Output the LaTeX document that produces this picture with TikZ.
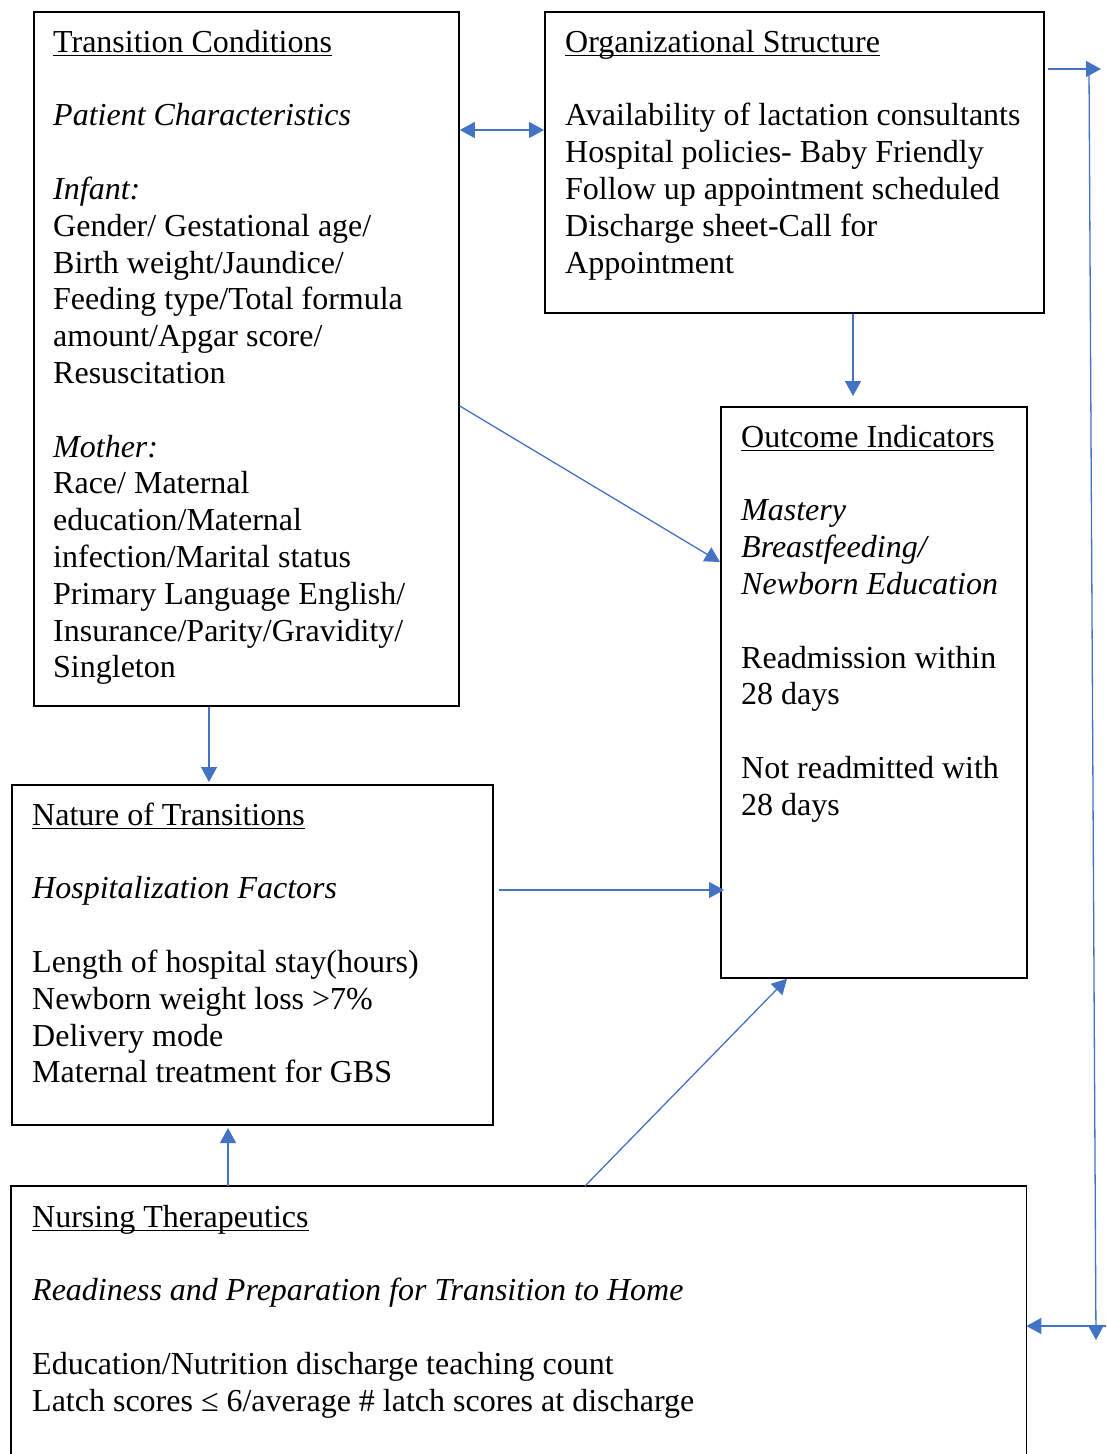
\documentclass[tikz,border=0pt]{standalone}
\usepackage{fontspec}
\setmainfont{Liberation Serif}
\usetikzlibrary{arrows.meta}
\definecolor{arrblue}{HTML}{4472C4}
\newcommand\ulx[1]{\setbox0\hbox{#1}\rlap{\rule[-4pt]{\wd0}{1.6pt}}\box0}
\newcommand\fs{\rule{0pt}{25pt}}
\begin{document}
\begin{tikzpicture}[x=1pt,y=-1pt,
 box/.style={draw=black, line width=1.8pt, anchor=north west, inner sep=0pt},
 txt/.style={anchor=north west, inner sep=0pt, align=left, font=\fontsize{32}{36.8}\selectfont},
 arr/.style={draw=arrblue, line width=1.3pt, -{Triangle[length=15pt,width=16pt]}},
 arrboth/.style={draw=arrblue, line width=1.3pt, {Triangle[length=15pt,width=16pt]}-{Triangle[length=15pt,width=16pt]}},
]
\useasboundingbox (0,0) rectangle (1106,1454);

% boxes
\node[box, minimum width=425pt, minimum height=694pt] (b1) at (33,11) {};
\node[box, minimum width=499pt, minimum height=301pt] (b2) at (544,11) {};
\node[box, minimum width=306pt, minimum height=571pt] (b3) at (720,406) {};
\node[box, minimum width=481pt, minimum height=340pt] (b4) at (11,784) {};
\node[anchor=north west, inner sep=0pt, minimum width=1015pt, minimum height=268pt] (b5) at (11,1186) {};
\draw[line width=1.8pt] (b5.south west) -- (b5.north west) -- (b5.north east) -- (b5.south east);

% texts
\node[txt] (t1) at (53,27) {\fs\ulx{Transition Conditions}\\[36.8pt]
\textit{Patient Characteristics}\\[36.8pt]
\textit{Infant:}\\
Gender/ Gestational age/\\
Birth weight/Jaundice/\\
Feeding type/Total formula\\
amount/Apgar score/\\
Resuscitation\\[36.8pt]
\textit{Mother:}\\
Race/ Maternal\\
education/Maternal\\
infection/Marital status\\
Primary Language English/\\
Insurance/Parity/Gravidity/\\
Singleton};

\node[txt] (t2) at (565,27) {\fs\ulx{Organizational Structure}\\[36.8pt]
Availability of lactation consultants\\
Hospital policies- Baby Friendly\\
Follow up appointment scheduled\\
Discharge sheet-Call for\\
Appointment};

\node[txt] (t3) at (741,422) {\fs\ulx{Outcome Indicators}\\[36.8pt]
\textit{Mastery}\\
\textit{Breastfeeding/}\\
\textit{Newborn Education}\\[36.8pt]
Readmission within\\
28 days\\[36.8pt]
Not readmitted with\\
28 days};

\node[txt] (t4) at (32,800) {\fs\ulx{Nature of Transitions}\\[36.8pt]
\textit{Hospitalization Factors}\\[36.8pt]
Length of hospital stay(hours)\\
Newborn weight loss >7\%\\
Delivery mode\\
Maternal treatment for GBS};

\node[txt] (t5) at (32,1202) {\fs\ulx{Nursing Therapeutics}\\[36.8pt]
\textit{Readiness and Preparation for Transition to Home}\\[36.8pt]
Education/Nutrition discharge teaching count\\
Latch scores ≤ 6/average \# latch scores at discharge};

% free ends
\coordinate (e1) at (853,396);
\coordinate (e2) at (209,782);
\coordinate (e3) at (228,1128);
\coordinate (e4) at (1101,69);
\coordinate (r1) at (1089,69);
\coordinate (r2) at (1096,1340);
\coordinate (r3) at (1106,1326);

% connectors
\draw[arrboth] (b1.east |- 0,130) -- (b2.west |- 0,130);
\draw[arr] (b2.south -| e1) -- (e1);
\draw[arr] (b1.east |- 0,406) -- (b3.west |- 0,562);
\draw[arr] (b1.south -| e2) -- (e2);
\draw[arr, shorten <=5pt, shorten >=-4pt] (b4.east |- 0,890) -- (b3.west |- 0,890);
\draw[arr] (b5.north -| e3) -- (e3);
\draw[arr] (b5.north -| 585,0) -- (b3.south -| 787,0);
\draw[arr, shorten <=3pt] (b2.east |- e4) -- (e4);
\draw[arr] (r1) -- (r2);
\draw[arr] (r3) -- (b5.east |- r3);
\end{tikzpicture}
\end{document}
